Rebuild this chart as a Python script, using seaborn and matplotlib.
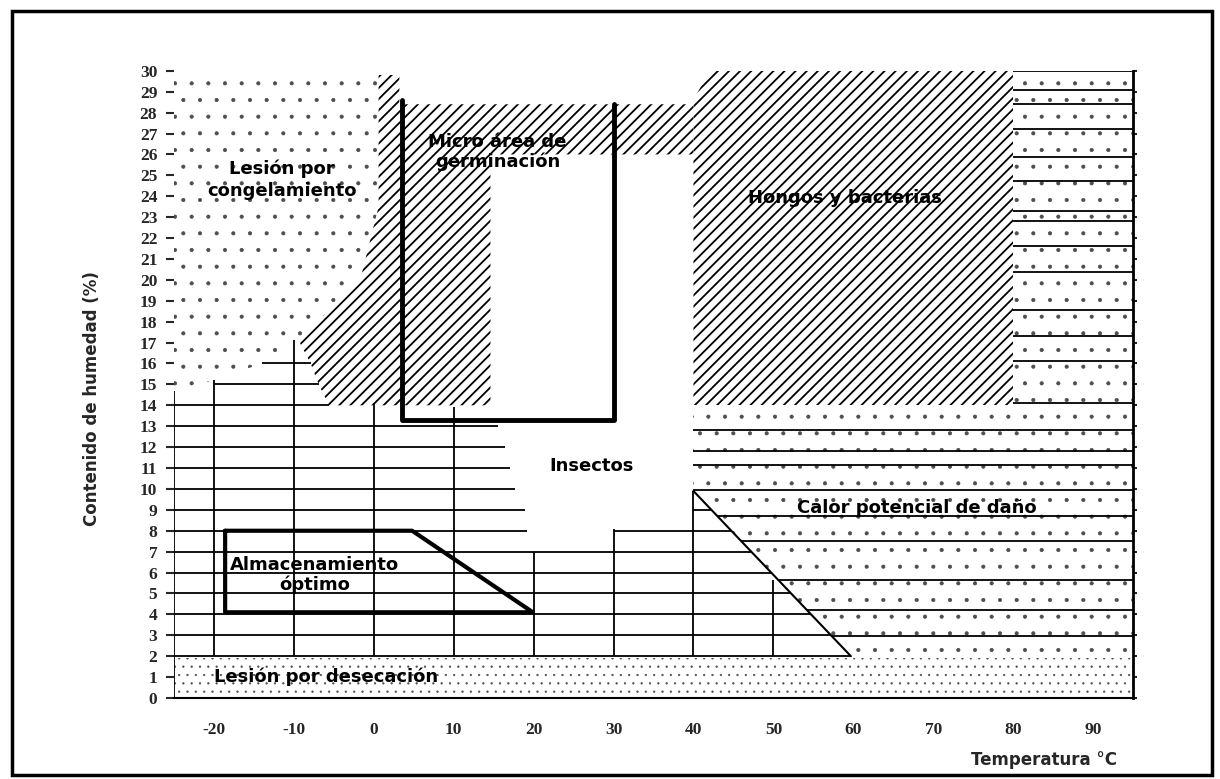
import numpy as np
import pandas as pd
import matplotlib.pyplot as plt
import seaborn as sns
from matplotlib.patches import Rectangle

# --- datos (temperatura °C, humedad %) ---
temp_ticks = [-20, -10, 0, 10, 20, 30, 40, 50, 60, 70, 80, 90]
temp_labels = ['-20', '-10', '0', '10', '20', '30', '40', '50', '60', '70', '80', '90']
hum_ticks = list(range(0, 31))

# lesión por congelamiento (punteado)
congel_x = [-25, -25, 0.6, 0.6, -1.5, -6, -9.8, -14, -20, -25]
congel_y = [14.7, 30, 30, 23.3, 20.1, 18.2, 17.1, 16.0, 15.2, 14.7]

# hongos y bacterias (rayado) - parte izquierda y derecha
hongos_izq_x = [-5.6, -6.9, -7.9, -9.4, -6, -1.5, 0.6, 0.6, 3.2, 3.2, 40, 40, 14.6, 14.6]
hongos_izq_y = [14, 15, 16, 17.1, 18.4, 20.3, 23.5, 29.8, 29.8, 28.4, 28.4, 26, 26, 14]
hongos_der_x = [40, 40, 42, 80, 80]
hongos_der_y = [14, 28.6, 30, 30, 14]

# calor potencial de daño (líneas + punteado)
calor_x = [40, 40, 80, 80, 95, 95, 59.7]
calor_y = [9.9, 14, 14, 30, 30, 2, 2]
calor_lineas = [12.8, 11.8, 11.15, 9.95, 8.7, 7.5, 5.65, 4.2, 2.97]
sup_lineas = [30, 29.1, 28.4, 27.2, 25.9, 24.75, 23.3, 22.8, 21.6, 20.4, 18.56, 17.3, 16.1, 14.1]

# lesión por desecación
desec_x = [-25, 95]
desec_techo = 1.9

# micro área de germinación (caja abierta)
germ_x = [3.5, 3.5, 30, 30]
germ_y = [28.6, 13.3, 13.3, 28.4]

# almacenamiento óptimo
alm_x = [-18.6, 4.8, 19.9, -18.6, -18.6]
alm_y = [8, 8, 4.1, 4.1, 8]

# límite diagonal del área de insectos
diag_x = [40, 59.7]
diag_y = [9.9, 2.0]

# cuadrícula de insectos
grid_y = [14, 13, 12, 11, 10, 9, 8, 7, 6, 5, 4, 3, 2]
grid_fin = [-5.6, 15.5, 16.4, 17.0, 17.7, 18.9, 19.2, None, None, None, None, None, None]
extra_y = [15, 16, 9, 8]
extra_ini = [-20, -14, 40, 30]
extra_fin = [-6.9, -7.9, None, None]
vert_x = [-25, -20, -10, 0, 10, 20, 30, 40, 50]
vert_top = [14.7, 15.2, 17.1, 14.1, 13.9, 7.0, 8.1, 9.9, 5.65]


def x_diagonal(y):
    return np.interp(y, diag_y[::-1], diag_x[::-1])


def sombrear(patch, hlw):
    # grosor propio del rayado / punteado de cada zona
    if hasattr(patch, 'set_hatch_linewidth'):
        patch.set_hatch_linewidth(hlw)


sns.set_theme(style='white')
plt.rcParams['font.family'] = ['DejaVu Sans']
plt.rcParams['hatch.linewidth'] = 1.3

fig = plt.figure(figsize=(12.2, 7.79), dpi=100)
ax = fig.add_axes([174 / 1220, 1 - 698 / 779, (1133 - 174) / 1220, (698 - 70.8) / 779])
ax.set_xlim(-25, 95)
ax.set_ylim(0, 30)

# zonas sombreadas
p = ax.fill(congel_x, congel_y, facecolor='white', edgecolor='0.3', lw=0, hatch='.')[0]
sombrear(p, 0.5)
p = ax.fill(hongos_izq_x, hongos_izq_y, facecolor='white', edgecolor='black', lw=0, hatch='///')[0]
sombrear(p, 1.3)
p = ax.fill(hongos_der_x, hongos_der_y, facecolor='white', edgecolor='black', lw=0, hatch='///')[0]
sombrear(p, 1.3)
p = ax.fill(calor_x, calor_y, facecolor='white', edgecolor='0.3', lw=0, hatch='.')[0]
sombrear(p, 0.5)
pc = ax.fill_between(desec_x, 0, desec_techo, facecolor='white', edgecolor='0.3', lw=0, hatch='..')
sombrear(pc, 0.4)

# cuadrícula
for y, fin in zip(grid_y, grid_fin):
    if fin is None:
        fin = x_diagonal(y)
    ax.hlines(y, -25, fin, color='black', lw=1.3)
for y, ini, fin in zip(extra_y, extra_ini, extra_fin):
    if fin is None:
        fin = x_diagonal(y)
    ax.hlines(y, ini, fin, color='black', lw=1.3)
for x, top in zip(vert_x, vert_top):
    ax.vlines(x, 0 if x == -25 else 2, top, color='black', lw=1.3)
for y in calor_lineas:
    ax.hlines(y, max(40, x_diagonal(y)), 95, color='black', lw=1.3)
for y in sup_lineas:
    ax.hlines(y, 80, 95, color='black', lw=1.3)

# contornos gruesos
sns.lineplot(x=diag_x, y=diag_y, sort=False, estimator=None, color='black', lw=1.5, ax=ax)
sns.lineplot(x=germ_x, y=germ_y, sort=False, estimator=None, color='black', lw=3.5, ax=ax)
sns.lineplot(x=alm_x, y=alm_y, sort=False, estimator=None, color='black', lw=3, ax=ax)

# textos de las zonas
txt = dict(fontsize=13, fontweight='bold', ha='center', va='center', color='black')
ax.text(-11.5, 24.8, 'Lesión por\ncongelamiento', linespacing=1.3, **txt)
ax.text(15.5, 26.1, 'Micro área de\ngerminación', linespacing=1.1, **txt)
ax.text(59, 23.9, 'Hongos y bacterias', **txt)
ax.text(27.2, 11.1, 'Insectos', **txt)
ax.text(68, 9.1, 'Calor potencial de daño', **txt)
ax.text(-7.4, 5.9, 'Almacenamiento\nóptimo', linespacing=1.1, **txt)
ax.text(-6, 1.0, 'Lesión por desecación', **txt)

# ejes
ax.set_xticks(temp_ticks)
ax.set_xticklabels(temp_labels)
ax.set_yticks(hum_ticks)
ax.set_yticklabels([str(v) for v in hum_ticks])
for lab in ax.get_xticklabels() + ax.get_yticklabels():
    lab.set_fontfamily('Liberation Serif')
    lab.set_fontweight('bold')
    lab.set_fontsize(12.5)
ax.yaxis.set_ticks_position('both')
ax.tick_params(axis='y', direction='out', length=6, width=1.5, pad=6, labelright=False)
ax.tick_params(axis='x', direction='out', length=5, width=1.5, pad=12)
for t in ax.yaxis.get_major_ticks():
    t.tick2line.set_markersize(3)
for side in ['top', 'left']:
    ax.spines[side].set_visible(False)
ax.spines['bottom'].set_linewidth(1.5)
ax.spines['right'].set_linewidth(2)
for s in ['bottom', 'right']:
    ax.spines[s].set_color('black')
ax.set_xlabel('')
ax.set_ylabel('')

fig.text(92 / 1220, 1 - 399 / 779, 'Contenido de humedad (%)', rotation=90,
         fontsize=12, fontweight='bold', ha='center', va='center')
fig.text(1044 / 1220, 1 - 760 / 779, 'Temperatura °C',
         fontsize=12, fontweight='bold', ha='center', va='center')

# marco exterior
fig.add_artist(Rectangle((12 / 1220, 1 - 775 / 779), 1200 / 1220, 764 / 779,
                         transform=fig.transFigure, fill=False, lw=2.5, color='black'))

fig.savefig('out.png', dpi=100)
